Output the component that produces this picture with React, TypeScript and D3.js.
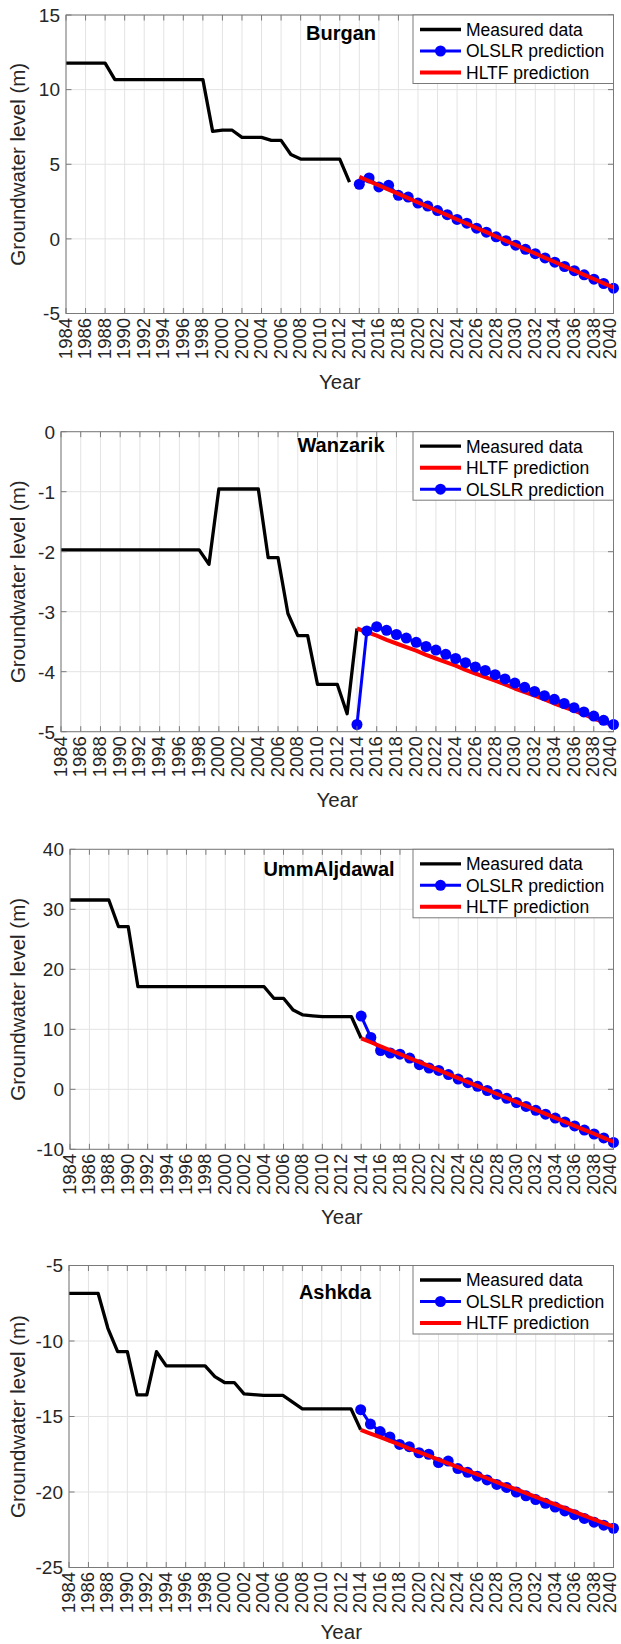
import React, { useEffect, useRef } from 'react'
import * as d3 from 'd3'

// x categories
const tickYears = [1984, 1986, 1988, 1990, 1992, 1994, 1996, 1998, 2000, 2002, 2004, 2006, 2008, 2010, 2012, 2014, 2016, 2018, 2020, 2022, 2024, 2026, 2028, 2030, 2032, 2034, 2036, 2038, 2040]
const measuredYears = [1984, 1985, 1986, 1987, 1988, 1989, 1990, 1991, 1992, 1993, 1994, 1995, 1996, 1997, 1998, 1999, 2000, 2001, 2002, 2003, 2004, 2005, 2006, 2007, 2008, 2009, 2010, 2011, 2012, 2013, 2014]
const predYears = [2014, 2015, 2016, 2017, 2018, 2019, 2020, 2021, 2022, 2023, 2024, 2025, 2026, 2027, 2028, 2029, 2030, 2031, 2032, 2033, 2034, 2035, 2036, 2037, 2038, 2039, 2040]

// Burgan (measured ends 2013)
const burganMeasured = [11.78, 11.78, 11.78, 11.78, 11.78, 10.67, 10.67, 10.67, 10.67, 10.67, 10.67, 10.67, 10.67, 10.67, 10.67, 7.2, 7.28, 7.28, 6.8, 6.8, 6.8, 6.6, 6.6, 5.65, 5.35, 5.35, 5.35, 5.35, 5.35, 3.8]
const burganOlslr = [3.66, 4.08, 3.48, 3.59, 2.92, 2.8, 2.4, 2.2, 1.9, 1.62, 1.3, 1.05, 0.72, 0.45, 0.14, -0.12, -0.42, -0.7, -0.99, -1.28, -1.56, -1.85, -2.13, -2.41, -2.7, -2.99, -3.3]
const burganHltf = [4.15, 3.87, 3.58, 3.3, 3.01, 2.73, 2.44, 2.16, 1.87, 1.59, 1.3, 1.02, 0.73, 0.45, 0.16, -0.13, -0.41, -0.7, -0.98, -1.27, -1.55, -1.84, -2.12, -2.41, -2.69, -2.98, -3.26]

// Wanzarik
const wanzarikMeasured = [-1.97, -1.97, -1.97, -1.97, -1.97, -1.97, -1.97, -1.97, -1.97, -1.97, -1.97, -1.97, -1.97, -1.97, -1.97, -2.21, -0.955, -0.955, -0.955, -0.955, -0.955, -2.1, -2.1, -3.03, -3.4, -3.4, -4.21, -4.21, -4.21, -4.7, -3.28]
const wanzarikOlslr = [-4.88, -3.32, -3.25, -3.31, -3.38, -3.44, -3.51, -3.58, -3.64, -3.71, -3.78, -3.85, -3.92, -3.98, -4.05, -4.12, -4.19, -4.26, -4.33, -4.4, -4.46, -4.53, -4.6, -4.67, -4.74, -4.81, -4.88]
const wanzarikHltf = [-3.28, -3.34, -3.4, -3.47, -3.53, -3.59, -3.65, -3.72, -3.78, -3.84, -3.9, -3.97, -4.03, -4.09, -4.15, -4.21, -4.28, -4.34, -4.4, -4.46, -4.53, -4.59, -4.65, -4.71, -4.78, -4.84, -4.9]

// UmmAljdawal
const ummMeasured = [31.55, 31.55, 31.55, 31.55, 31.55, 27.1, 27.1, 17.1, 17.1, 17.1, 17.1, 17.1, 17.1, 17.1, 17.1, 17.1, 17.1, 17.1, 17.1, 17.1, 17.1, 15.17, 15.17, 13.2, 12.4, 12.25, 12.1, 12.1, 12.1, 12.1, 8.5]
const ummOlslr = [12.2, 8.65, 6.45, 6.05, 5.85, 5.2, 4.1, 3.55, 3.15, 2.45, 1.7, 1.1, 0.5, -0.2, -0.85, -1.5, -2.2, -2.85, -3.5, -4.15, -4.8, -5.45, -6.1, -6.8, -7.45, -8.1, -8.85]
const ummHltf = [8.5, 7.84, 7.17, 6.51, 5.85, 5.19, 4.52, 3.86, 3.2, 2.53, 1.87, 1.21, 0.54, -0.12, -0.78, -1.45, -2.11, -2.77, -3.43, -4.1, -4.76, -5.42, -6.09, -6.75, -7.41, -8.08, -8.74]

// Ashkda
const ashkdaMeasured = [-6.85, -6.85, -6.85, -6.85, -9.16, -10.71, -10.71, -13.57, -13.57, -10.71, -11.65, -11.65, -11.65, -11.65, -11.65, -12.36, -12.75, -12.75, -13.5, -13.55, -13.6, -13.6, -13.6, -14.05, -14.49, -14.49, -14.49, -14.49, -14.49, -14.49, -15.88]
const ashkdaOlslr = [-14.55, -15.5, -16.0, -16.35, -16.85, -17.0, -17.4, -17.5, -18.05, -17.95, -18.45, -18.7, -18.95, -19.2, -19.5, -19.7, -20.0, -20.25, -20.5, -20.75, -21.0, -21.25, -21.5, -21.75, -22.0, -22.2, -22.4]
const ashkdaHltf = [-15.88, -16.13, -16.37, -16.62, -16.87, -17.12, -17.36, -17.61, -17.86, -18.1, -18.35, -18.6, -18.84, -19.09, -19.34, -19.59, -19.83, -20.08, -20.33, -20.57, -20.82, -21.07, -21.31, -21.56, -21.81, -22.06, -22.3]

type SeriesKey = 'measured' | 'olslr' | 'hltf'

const seriesStyle: Record<SeriesKey, { label: string; color: string; width: number; marker: boolean }> = {
  measured: { label: 'Measured data', color: '#000000', width: 3.3, marker: false },
  olslr: { label: 'OLSLR prediction', color: '#0000ff', width: 3, marker: true },
  hltf: { label: 'HLTF prediction', color: '#ff0000', width: 4, marker: false },
}

const panels = [
  { name: 'Burgan', measured: burganMeasured, olslr: burganOlslr, hltf: burganHltf, yDomain: [-5, 15], yTicks: [-5, 0, 5, 10, 15], left: 66, top: 15, bottom: 313.5, titleX: 341, titleDy: 25, order: ['measured', 'olslr', 'hltf'] as SeriesKey[] },
  { name: 'Wanzarik', measured: wanzarikMeasured, olslr: wanzarikOlslr, hltf: wanzarikHltf, yDomain: [-5, 0], yTicks: [-5, -4, -3, -2, -1, 0], left: 61, top: 431.7, bottom: 731.7, titleX: 341, titleDy: 20, order: ['measured', 'hltf', 'olslr'] as SeriesKey[] },
  { name: 'UmmAljdawal', measured: ummMeasured, olslr: ummOlslr, hltf: ummHltf, yDomain: [-10, 40], yTicks: [-10, 0, 10, 20, 30, 40], left: 70, top: 849.3, bottom: 1149.3, titleX: 329, titleDy: 27, order: ['measured', 'olslr', 'hltf'] as SeriesKey[] },
  { name: 'Ashkda', measured: ashkdaMeasured, olslr: ashkdaOlslr, hltf: ashkdaHltf, yDomain: [-25, -5], yTicks: [-25, -20, -15, -10, -5], left: 69, top: 1265.5, bottom: 1567.5, titleX: 335, titleDy: 33, order: ['measured', 'olslr', 'hltf'] as SeriesKey[] },
]

const W = 621
const H = 1644
const plotRight = 613.5
const fontFamily = '"Liberation Sans", Arial, Helvetica, sans-serif'
const axisColor = '#262626'
const boxColor = '#7a7a7a'
const gridColor = '#e3e3e3'

export default function App() {
  const svgRef = useRef<SVGSVGElement>(null)

  useEffect(() => {
    if (!svgRef.current) return
    const svg = d3.select(svgRef.current)
    svg.selectAll('*').remove()

    panels.forEach(p => {
      const x = d3.scaleLinear().domain([1984, 2040]).range([p.left, plotRight])
      const y = d3.scaleLinear().domain(p.yDomain).range([p.bottom, p.top])
      const g = svg.append('g')

      // grid
      g.selectAll('.vgrid').data(tickYears).enter().append('line')
        .attr('x1', d => x(d)).attr('x2', d => x(d))
        .attr('y1', p.top).attr('y2', p.bottom)
        .attr('stroke', gridColor).attr('stroke-width', 1)
      g.selectAll('.hgrid').data(p.yTicks).enter().append('line')
        .attr('x1', p.left).attr('x2', plotRight)
        .attr('y1', d => y(d)).attr('y2', d => y(d))
        .attr('stroke', gridColor).attr('stroke-width', 1)

      const line = d3.line<[number, number]>()
        .x(d => x(d[0]))
        .y(d => y(d[1]))

      const seriesData: Record<SeriesKey, [number, number][]> = {
        measured: p.measured.map((v, i) => [measuredYears[i], v] as [number, number]),
        olslr: p.olslr.map((v, i) => [predYears[i], v] as [number, number]),
        hltf: p.hltf.map((v, i) => [predYears[i], v] as [number, number]),
      }

      p.order.forEach(key => {
        const st = seriesStyle[key]
        g.append('path')
          .datum(seriesData[key])
          .attr('d', line)
          .attr('fill', 'none')
          .attr('stroke', st.color)
          .attr('stroke-width', st.width)
          .attr('stroke-linejoin', 'round')
        if (st.marker) {
          g.selectAll(null).data(seriesData[key]).enter().append('circle')
            .attr('cx', d => x(d[0])).attr('cy', d => y(d[1]))
            .attr('r', 5.5)
            .attr('fill', st.color)
        }
      })

      // box
      g.append('rect')
        .attr('x', p.left).attr('y', p.top)
        .attr('width', plotRight - p.left).attr('height', p.bottom - p.top)
        .attr('fill', 'none').attr('stroke', boxColor).attr('stroke-width', 1)

      // inward ticks
      const tl = 5.5
      tickYears.forEach(t => {
        g.append('line').attr('x1', x(t)).attr('x2', x(t)).attr('y1', p.bottom).attr('y2', p.bottom - tl).attr('stroke', boxColor)
        g.append('line').attr('x1', x(t)).attr('x2', x(t)).attr('y1', p.top).attr('y2', p.top + tl).attr('stroke', boxColor)
      })
      p.yTicks.forEach(t => {
        g.append('line').attr('x1', p.left).attr('x2', p.left + tl).attr('y1', y(t)).attr('y2', y(t)).attr('stroke', boxColor)
        g.append('line').attr('x1', plotRight).attr('x2', plotRight - tl).attr('y1', y(t)).attr('y2', y(t)).attr('stroke', boxColor)
      })

      // tick labels (last one nudged so it stays inside the page)
      g.selectAll('.xt').data(tickYears).enter().append('text')
        .attr('transform', d => `translate(${x(d)},${p.bottom + 4.5}) rotate(-90)`)
        .attr('text-anchor', 'end')
        .attr('dy', (d, i) => (i === tickYears.length - 1 ? '0.16em' : '0.3em'))
        .style('font-family', fontFamily)
        .style('font-size', '18.5px')
        .style('fill', axisColor)
        .text(d => d)
      g.selectAll('.yt').data(p.yTicks).enter().append('text')
        .attr('x', p.left - 6)
        .attr('y', d => y(d))
        .attr('dy', '0.36em')
        .attr('text-anchor', 'end')
        .style('font-family', fontFamily)
        .style('font-size', '19px')
        .style('fill', axisColor)
        .text(d => d)

      // axis labels
      g.append('text')
        .attr('x', (p.left + plotRight) / 2)
        .attr('y', Math.min(p.bottom + 75, H - 5))
        .attr('text-anchor', 'middle')
        .style('font-family', fontFamily)
        .style('font-size', '20.5px')
        .style('fill', axisColor)
        .text('Year')
      g.append('text')
        .attr('transform', `translate(25,${(p.top + p.bottom) / 2}) rotate(-90)`)
        .attr('text-anchor', 'middle')
        .style('font-family', fontFamily)
        .style('font-size', '20.5px')
        .style('fill', axisColor)
        .text('Groundwater level (m)')

      // title inside the axes
      g.append('text')
        .attr('x', p.titleX)
        .attr('y', p.top + p.titleDy)
        .attr('text-anchor', 'middle')
        .style('font-family', fontFamily)
        .style('font-size', '20px')
        .style('font-weight', 'bold')
        .style('fill', '#000')
        .text(p.name)

      // legend
      const lgLeft = 413
      const lg = g.append('g')
      lg.append('rect')
        .attr('x', lgLeft).attr('y', p.top)
        .attr('width', plotRight - lgLeft).attr('height', 68.5)
        .attr('fill', '#fff').attr('stroke', boxColor).attr('stroke-width', 1)
      p.order.forEach((key, i) => {
        const st = seriesStyle[key]
        const cy = p.top + 14.5 + i * 21.5
        lg.append('line')
          .attr('x1', lgLeft + 7).attr('x2', lgLeft + 48)
          .attr('y1', cy).attr('y2', cy)
          .attr('stroke', st.color).attr('stroke-width', st.width)
        if (st.marker) {
          lg.append('circle').attr('cx', lgLeft + 27.5).attr('cy', cy).attr('r', 5.5).attr('fill', st.color)
        }
        lg.append('text')
          .attr('x', lgLeft + 53)
          .attr('y', cy)
          .attr('dy', '0.36em')
          .style('font-family', fontFamily)
          .style('font-size', '17.5px')
          .style('fill', '#000')
          .text(st.label)
      })
    })
  }, [])

  return (
    <svg
      ref={svgRef}
      width={W}
      height={H}
      style={{ position: 'absolute', left: 0, top: 0, background: '#fff' }}
    />
  )
}
